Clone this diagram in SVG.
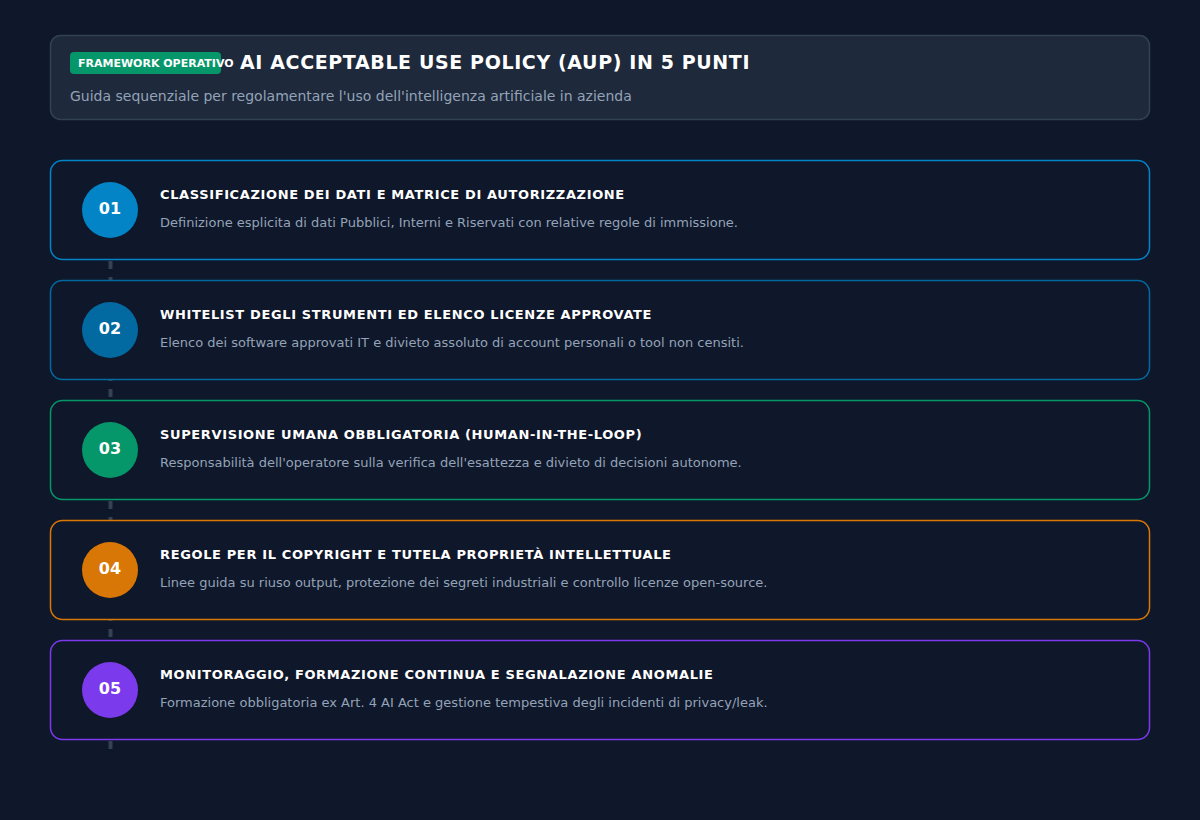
<svg xmlns="http://www.w3.org/2000/svg" width="1200" height="820" viewBox="0 0 1200 820">
<defs>
<style>
.bg{fill:#0f172a}
.card{fill:#0f172a;stroke-width:1.5}
.num{font-family:"DejaVu Sans",sans-serif;font-weight:bold;font-size:16px;fill:#ffffff;text-anchor:middle}
.ttl{font-family:"DejaVu Sans",sans-serif;font-weight:bold;font-size:13px;fill:#ffffff;letter-spacing:0.63px}
.dsc{font-family:"DejaVu Sans",sans-serif;font-size:13px;fill:#94a3b8}
</style>
</defs>
<rect class="bg" x="0" y="0" width="1200" height="820"/>
<g id="header">
<rect x="50.5" y="35.5" width="1099" height="84" rx="10" fill="#1e293b" stroke="#334155" stroke-width="1.5"/>
<rect x="70" y="52" width="151" height="22" rx="4" fill="#059669"/>
<text x="78" y="66.5" font-family="DejaVu Sans,sans-serif" font-weight="bold" font-size="11" fill="#ffffff">FRAMEWORK OPERATIVO</text>
<text x="240" y="69" font-family="DejaVu Sans,sans-serif" font-weight="bold" font-size="19" fill="#ffffff" letter-spacing="0.62">AI ACCEPTABLE USE POLICY (AUP) IN 5 PUNTI</text>
<text x="70" y="101" font-family="DejaVu Sans,sans-serif" font-size="14" fill="#94a3b8">Guida sequenziale per regolamentare l'uso dell'intelligenza artificiale in azienda</text>
</g>
<g id="connectors">
<line x1="110.5" y1="245" x2="110.5" y2="749" stroke="#334155" stroke-width="4" stroke-dasharray="8 8"/>
</g>
<g id="step1">
<rect class="card" x="50.5" y="160.5" width="1099" height="99" rx="12" stroke="#0284c7"/>
<circle cx="110" cy="210" r="28" fill="#0284c7"/>
<text class="num" x="110" y="214">01</text>
<text class="ttl" x="160" y="199">CLASSIFICAZIONE DEI DATI E MATRICE DI AUTORIZZAZIONE</text>
<text class="dsc" x="160" y="227">Definizione esplicita di dati Pubblici, Interni e Riservati con relative regole di immissione.</text>
</g>
<g id="step2">
<rect class="card" x="50.5" y="280.5" width="1099" height="99" rx="12" stroke="#0369a1"/>
<circle cx="110" cy="330" r="28" fill="#0369a1"/>
<text class="num" x="110" y="334">02</text>
<text class="ttl" x="160" y="319">WHITELIST DEGLI STRUMENTI ED ELENCO LICENZE APPROVATE</text>
<text class="dsc" x="160" y="347">Elenco dei software approvati IT e divieto assoluto di account personali o tool non censiti.</text>
</g>
<g id="step3">
<rect class="card" x="50.5" y="400.5" width="1099" height="99" rx="12" stroke="#059669"/>
<circle cx="110" cy="450" r="28" fill="#059669"/>
<text class="num" x="110" y="454">03</text>
<text class="ttl" x="160" y="439">SUPERVISIONE UMANA OBBLIGATORIA (HUMAN-IN-THE-LOOP)</text>
<text class="dsc" x="160" y="467">Responsabilità dell'operatore sulla verifica dell'esattezza e divieto di decisioni autonome.</text>
</g>
<g id="step4">
<rect class="card" x="50.5" y="520.5" width="1099" height="99" rx="12" stroke="#d97706"/>
<circle cx="110" cy="570" r="28" fill="#d97706"/>
<text class="num" x="110" y="574">04</text>
<text class="ttl" x="160" y="559">REGOLE PER IL COPYRIGHT E TUTELA PROPRIETÀ INTELLETTUALE</text>
<text class="dsc" x="160" y="587">Linee guida su riuso output, protezione dei segreti industriali e controllo licenze open-source.</text>
</g>
<g id="step5">
<rect class="card" x="50.5" y="640.5" width="1099" height="99" rx="12" stroke="#7c3aed"/>
<circle cx="110" cy="690" r="28" fill="#7c3aed"/>
<text class="num" x="110" y="694">05</text>
<text class="ttl" x="160" y="679">MONITORAGGIO, FORMAZIONE CONTINUA E SEGNALAZIONE ANOMALIE</text>
<text class="dsc" x="160" y="707">Formazione obbligatoria ex Art. 4 AI Act e gestione tempestiva degli incidenti di privacy/leak.</text>
</g>
</svg>
